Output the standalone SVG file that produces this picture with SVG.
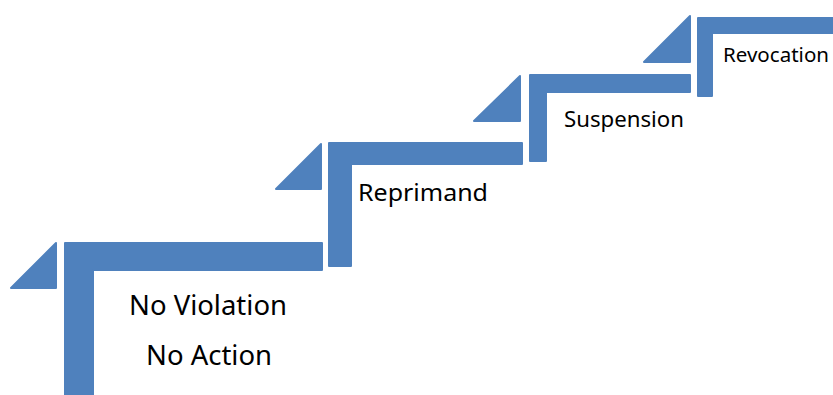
<svg xmlns="http://www.w3.org/2000/svg" width="833" height="395" viewBox="0 0 833 395">
<style>
.s{fill:#4F81BD;stroke:#4F81BD;stroke-width:2;stroke-linejoin:round}
.t{font-family:"Noto Sans","Open Sans","Liberation Sans",sans-serif;fill:#000}
</style>
<rect width="833" height="395" fill="#fff"/>
<g id="step-no-violation">
<path class="s" d="M11,288 L56,243 L56,288 Z"/>
<path class="s" d="M65,243 H322 V270 H93 V400 H65 Z"/>
<text class="t" x="129" y="315" font-size="27" textLength="158" lengthAdjust="spacingAndGlyphs">No Violation</text>
<text class="t" x="146" y="365" font-size="27" textLength="126" lengthAdjust="spacingAndGlyphs">No Action</text>
</g>
<g id="step-reprimand">
<path class="s" d="M276,189 L321,144 L321,189 Z"/>
<path class="s" d="M329,143 H522 V164 H351 V266 H329 Z"/>
<text class="t" x="358" y="201" font-size="24" textLength="130" lengthAdjust="spacingAndGlyphs">Reprimand</text>
</g>
<g id="step-suspension">
<path class="s" d="M474,121 L520,76 L520,121 Z"/>
<path class="s" d="M530,75 H690 V92 H546 V161 H530 Z"/>
<text class="t" x="564" y="127" font-size="21" textLength="120" lengthAdjust="spacingAndGlyphs">Suspension</text>
</g>
<g id="step-revocation">
<path class="s" d="M644,62 L690,16 L690,62 Z"/>
<path class="s" d="M698,18 H840 V33 H712 V96 H698 Z"/>
<text class="t" x="723" y="62" font-size="20" textLength="106" lengthAdjust="spacingAndGlyphs">Revocation</text>
</g>
<g id="connectors"></g>
</svg>
